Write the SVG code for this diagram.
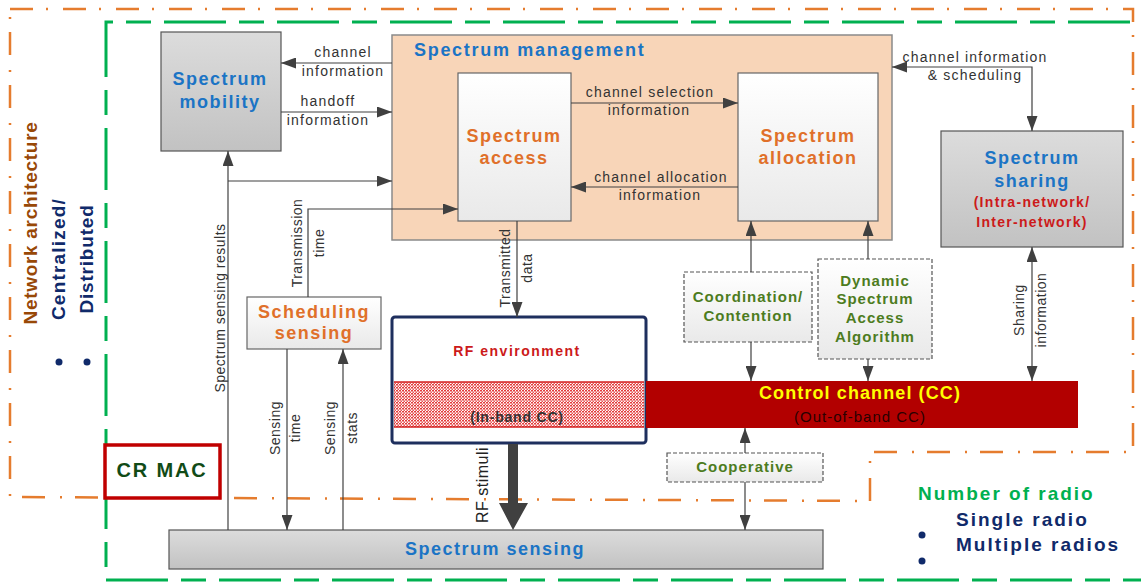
<svg xmlns="http://www.w3.org/2000/svg" width="1141" height="582" viewBox="0 0 1141 582">
<style>
text{font-family:"Liberation Sans",Arial,sans-serif;}
.h{font-size:18px;font-weight:bold;letter-spacing:1.5px;text-anchor:middle;}
.blue{fill:#1b74c5;}
.orng{fill:#e0702a;}
.lbl{font-size:14px;fill:#333;letter-spacing:1.2px;text-anchor:middle;}
.rl{font-size:14px;fill:#333;letter-spacing:0.5px;text-anchor:middle;}
.grn{font-size:15px;font-weight:bold;fill:#4d7c1e;letter-spacing:1px;text-anchor:middle;}
.con{fill:none;stroke:#404040;stroke-width:1.2;}
.gbox{fill:url(#gray);stroke:#555;stroke-width:1.2;}
.wbox{fill:url(#white);stroke:#666;stroke-width:1.2;}
.dbox{fill:url(#white);stroke:#555;stroke-width:1.2;stroke-dasharray:4 2;}
.navy{fill:#102a6a;font-weight:bold;}
</style>
<defs>
<linearGradient id="gray" x1="0" y1="0" x2="0" y2="1"><stop offset="0" stop-color="#dcdcdc"/><stop offset="1" stop-color="#c2c2c2"/></linearGradient>
<linearGradient id="white" x1="0" y1="0" x2="0" y2="1"><stop offset="0" stop-color="#ffffff"/><stop offset="1" stop-color="#e9e9e9"/></linearGradient>
<pattern id="stip" width="3" height="3" patternUnits="userSpaceOnUse"><rect width="3" height="3" fill="#fff"/><rect width="2" height="1.5" fill="#e23c3c"/><rect x="1.5" y="1.5" width="1.5" height="1.5" fill="#e85555"/></pattern>
<marker id="ah" markerUnits="userSpaceOnUse" markerWidth="15" markerHeight="11" refX="15" refY="5.5" orient="auto-start-reverse"><path d="M0,0 L15,5.5 L0,11 z" fill="#404040"/></marker>
</defs>

<g id="boundaries">
<path d="M1130,22 L106,22 L106,580 L1141,580" fill="none" stroke="#00b050" stroke-width="3" stroke-dasharray="62 13 25 13"/>
<path d="M10,9 L1133,9 L1133,452 L870,452 L870,501 L10,497 Z" fill="none" stroke="#e57c2e" stroke-width="2.5" stroke-dasharray="23 13 2 15"/>
</g>

<g id="spectrum-management">
<rect x="392" y="35" width="500" height="205" fill="#f8d5b8" stroke="#8a8a8a" stroke-width="1.5"/>
<text x="414" y="56" class="blue" style="font-size:18px;font-weight:bold;letter-spacing:1.7px">Spectrum management</text>
</g>

<g id="spectrum-mobility">
<rect x="161" y="32" width="120" height="119" class="gbox"/>
<text x="220" y="85" class="h blue">Spectrum</text>
<text x="220" y="108" class="h blue">mobility</text>
</g>

<g id="spectrum-access">
<rect x="458" y="73" width="113" height="148" class="wbox"/>
<text x="514" y="142" class="h orng">Spectrum</text>
<text x="514" y="164" class="h orng">access</text>
</g>

<g id="spectrum-allocation">
<rect x="738" y="73" width="140" height="148" class="wbox"/>
<text x="808" y="142" class="h orng">Spectrum</text>
<text x="808" y="164" class="h orng">allocation</text>
</g>

<g id="spectrum-sharing">
<rect x="941" y="131" width="182" height="116" class="gbox"/>
<text x="1032" y="164" class="h blue">Spectrum</text>
<text x="1032" y="187" class="h blue">sharing</text>
<text x="1032" y="207" style="font-size:14px;font-weight:bold;fill:#cc1a1a;letter-spacing:1.3px;text-anchor:middle">(Intra-network/</text>
<text x="1032" y="227" style="font-size:14px;font-weight:bold;fill:#cc1a1a;letter-spacing:1.3px;text-anchor:middle">Inter-network)</text>
</g>

<g id="scheduling-sensing">
<rect x="247" y="297" width="134" height="52" class="wbox"/>
<text x="314" y="318" class="h orng">Scheduling</text>
<text x="314" y="339" class="h orng">sensing</text>
</g>

<g id="rf-environment">
<rect x="392" y="317" width="254" height="126" rx="3" fill="#fff" stroke="#1e2f5e" stroke-width="3"/>
<rect x="394" y="382" width="250" height="45" fill="url(#stip)"/>
<line x1="394" y1="382" x2="644" y2="382" stroke="#d42020" stroke-width="1.5"/>
<line x1="394" y1="427" x2="644" y2="427" stroke="#d42020" stroke-width="1.5"/>
<text x="517" y="356" style="font-size:14px;font-weight:bold;fill:#cc1a1a;letter-spacing:1.5px;text-anchor:middle">RF environment</text>
<text x="517" y="422" style="font-size:14px;font-weight:bold;fill:#333;letter-spacing:0.8px;text-anchor:middle">(In-band CC)</text>
</g>

<g id="control-channel">
<rect x="646" y="381" width="432" height="47" fill="#b20000"/>
<text x="860" y="399" style="font-size:18px;font-weight:bold;fill:#ffff00;letter-spacing:1.1px;text-anchor:middle">Control channel (CC)</text>
<text x="860" y="422" style="font-size:15px;fill:#2a0000;letter-spacing:1px;text-anchor:middle">(Out-of-band CC)</text>
</g>

<g id="coordination-contention">
<rect x="684" y="272" width="128" height="70" class="dbox"/>
<text x="748" y="302" class="grn">Coordination/</text>
<text x="748" y="321" class="grn">Contention</text>
</g>

<g id="dsa-algorithm">
<rect x="818" y="259" width="114" height="100" class="dbox"/>
<text x="875" y="286" class="grn">Dynamic</text>
<text x="875" y="304" class="grn">Spectrum</text>
<text x="875" y="323" class="grn">Access</text>
<text x="875" y="342" class="grn">Algorithm</text>
</g>

<g id="cooperative">
<rect x="667" y="453" width="156" height="29" class="dbox"/>
<text x="745" y="472" class="grn">Cooperative</text>
</g>

<g id="spectrum-sensing">
<rect x="169" y="530" width="654" height="39" class="gbox"/>
<text x="495" y="555" class="h blue">Spectrum sensing</text>
</g>

<g id="cr-mac">
<rect x="105" y="445" width="115" height="53" fill="#fff" stroke="#c00000" stroke-width="3.5"/>
<text x="162" y="477" style="font-size:20px;font-weight:bold;fill:#114b17;letter-spacing:1.8px;text-anchor:middle">CR MAC</text>
</g>

<g id="network-architecture">
<text transform="translate(37,223) rotate(-90)" style="font-size:19px;font-weight:bold;fill:#984807;letter-spacing:0.7px;text-anchor:middle">Network architecture</text>
<text transform="translate(65,259) rotate(-90)" class="navy" style="font-size:19px;letter-spacing:1.2px;text-anchor:middle">Centralized/</text>
<text transform="translate(93,259) rotate(-90)" class="navy" style="font-size:19px;letter-spacing:0.8px;text-anchor:middle">Distributed</text>
<circle cx="59" cy="362" r="3.5" fill="#102a6a"/>
<circle cx="87" cy="362" r="3.5" fill="#102a6a"/>
</g>

<g id="number-of-radio">
<text x="918" y="500" style="font-size:19px;font-weight:bold;fill:#00b050;letter-spacing:2px">Number of radio</text>
<text x="956" y="526" class="navy" style="font-size:19px;letter-spacing:2px">Single radio</text>
<text x="956" y="551" class="navy" style="font-size:19px;letter-spacing:2px">Multiple radios</text>
<circle cx="922" cy="535" r="3.5" fill="#102a6a"/>
<circle cx="922" cy="561" r="3.5" fill="#102a6a"/>
</g>

<g id="connectors">
<path class="con" d="M392,63 L281,63" marker-end="url(#ah)"/>
<path class="con" d="M281,112 L392,112" marker-end="url(#ah)"/>
<path class="con" d="M228,530 L228,151" marker-end="url(#ah)"/>
<path class="con" d="M228,181 L392,181" marker-end="url(#ah)"/>
<path class="con" d="M308,297 L308,209 L458,209" marker-end="url(#ah)"/>
<path class="con" d="M287,349 L287,530" marker-end="url(#ah)"/>
<path class="con" d="M343,530 L343,349" marker-end="url(#ah)"/>
<path class="con" d="M517,221 L517,317" marker-end="url(#ah)"/>
<path class="con" d="M571,103 L738,103" marker-end="url(#ah)"/>
<path class="con" d="M738,187 L571,187" marker-end="url(#ah)"/>
<path class="con" d="M892,67 L1032,67 L1032,131" marker-start="url(#ah)" marker-end="url(#ah)"/>
<path class="con" d="M751,272 L751,221" marker-end="url(#ah)"/>
<path class="con" d="M751,342 L751,381" marker-end="url(#ah)"/>
<path class="con" d="M868,259 L868,221" marker-end="url(#ah)"/>
<path class="con" d="M868,359 L868,381" marker-end="url(#ah)"/>
<path class="con" d="M745,453 L745,428" marker-end="url(#ah)"/>
<path class="con" d="M745,482 L745,530" marker-end="url(#ah)"/>
<path class="con" d="M1032,247 L1032,381" marker-start="url(#ah)" marker-end="url(#ah)"/>
<polygon points="508,444 518,444 518,503 528,503 513,530 499,503 508,503" fill="#404040"/>

<text x="343" y="57" class="lbl">channel</text>
<text x="343" y="76" class="lbl">information</text>
<text x="328" y="106" class="lbl">handoff</text>
<text x="328" y="125" class="lbl">information</text>
<text x="650" y="97" class="lbl">channel selection</text>
<text x="649" y="115" class="lbl">information</text>
<text x="661" y="182" class="lbl">channel allocation</text>
<text x="660" y="200" class="lbl">information</text>
<text x="975" y="62" class="lbl">channel information</text>
<text x="975" y="80" class="lbl">&amp; scheduling</text>
<text transform="translate(225,308) rotate(-90)" class="rl">Spectrum sensing results</text>
<text transform="translate(302,243) rotate(-90)" class="rl">Transmission</text>
<text transform="translate(324,243) rotate(-90)" class="rl">time</text>
<text transform="translate(280,428) rotate(-90)" class="rl">Sensing</text>
<text transform="translate(300,428) rotate(-90)" class="rl">time</text>
<text transform="translate(335,428) rotate(-90)" class="rl">Sensing</text>
<text transform="translate(357,428) rotate(-90)" class="rl">stats</text>
<text transform="translate(510,268) rotate(-90)" class="rl">Transmitted</text>
<text transform="translate(532,268) rotate(-90)" class="rl">data</text>
<text transform="translate(488,485) rotate(-90)" class="rl" style="font-size:16px;fill:#222">RF stimuli</text>
<text transform="translate(1024,310) rotate(-90)" class="rl">Sharing</text>
<text transform="translate(1046,310) rotate(-90)" class="rl">information</text>
</g>
</svg>
